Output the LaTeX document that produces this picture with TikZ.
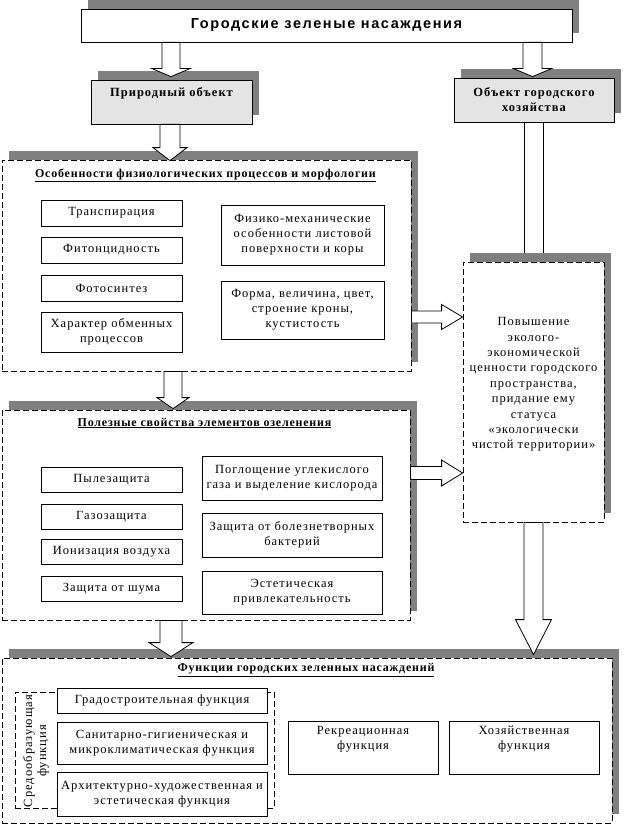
\documentclass[tikz,border=0pt]{standalone}
\usepackage{fontspec}
\setmainfont{Liberation Serif}[LetterSpace=8]
\newfontfamily\titlefont{Liberation Sans}[LetterSpace=11]
\newfontfamily\headfont{Liberation Serif}[LetterSpace=6.5]
\usetikzlibrary{calc}
\definecolor{shadowgray}{HTML}{808080}
\definecolor{boxgray}{HTML}{E4E4E4}
\pgfdeclarelayer{bg}
\pgfsetlayers{bg,main}
\tikzset{
  plainbox/.style={draw=black, fill=white, line width=0.8pt, inner sep=0pt, align=center,
    font=\fontsize{12.5}{15}\selectfont},
  graybox/.style={plainbox, fill=boxgray, font=\bfseries\fontsize{12.5}{15}\selectfont},
  groupbox/.style={draw=black, fill=white, line width=0.8pt, dash pattern=on 6pt off 3pt, inner sep=0pt},
  grouptitle/.style={inner sep=0pt, font=\headfont\bfseries\fontsize{12}{15}\selectfont},
  blockarrow/.style={draw=black, fill=white, line width=0.8pt, line join=miter},
  stemline/.style={draw=black, line width=0.8pt},
}
% shadow behind a node: offset 7 right, 9 up
\newcommand\shadowof[1]{%
  \begin{pgfonlayer}{bg}
    \fill[shadowgray] ($(#1.north west)+(7,-9)$) rectangle ($(#1.south east)+(7,-9)$);
  \end{pgfonlayer}}
% block arrow pointing down: start, tip, stem half width, head half width, head length
\newcommand\blkdown[5]{%
  \draw[blockarrow] ($(#1)+(-#3,0)$) -- ($(#2)+(-#3,-#5)$) -- ($(#2)+(-#4,-#5)$) -- (#2)
    -- ($(#2)+(#4,-#5)$) -- ($(#2)+(#3,-#5)$) -- ($(#1)+(#3,0)$) -- cycle;}
% block arrow pointing right
\newcommand\blkright[5]{%
  \draw[blockarrow] ($(#1)+(0,-#3)$) -- ($(#2)+(-#5,-#3)$) -- ($(#2)+(-#5,-#4)$) -- (#2)
    -- ($(#2)+(-#5,#4)$) -- ($(#2)+(-#5,#3)$) -- ($(#1)+(0,#3)$) -- cycle;}
\begin{document}
\begin{tikzpicture}[x=1pt,y=-1pt]
\useasboundingbox (0,0) rectangle (624,824);

% ---- top level
\node[plainbox, minimum width=491, minimum height=33, font=\titlefont\bfseries\fontsize{14.5}{16}\selectfont]
  (title) at (326.5,25.5) {Городские зеленые насаждения};
\shadowof{title}
\node[graybox, minimum width=161, minimum height=44] (nat) at (171.5,102) {Природный объект\\\strut};
\shadowof{nat}
\node[graybox, minimum width=160, minimum height=44] (obj) at (534,100) {Объект городского\\хозяйства};
\shadowof{obj}

% ---- group 1
\node[groupbox, minimum width=409, minimum height=211] (g1) at (206.5,265.5) {};
\shadowof{g1}
\node[grouptitle] (g1t) at (205.5,175) {\underline{Особенности физиологических процессов и морфологии}};
\node[plainbox, minimum width=141, minimum height=26] (b11) at (111.5,213) {Транспирация};
\node[plainbox, minimum width=141, minimum height=26] (b12) at (111.5,250) {Фитонцидность};
\node[plainbox, minimum width=141, minimum height=26] (b13) at (111.5,288) {Фотосинтез};
\node[plainbox, minimum width=141, minimum height=40] (b14) at (111.5,332) {Характер обменных\\процессов};
\node[plainbox, minimum width=163, minimum height=60] (b15) at (302.5,235) {Физико-механические\\особенности листовой\\поверхности и коры};
\node[plainbox, minimum width=163, minimum height=58] (b16) at (302.5,310) {Форма, величина, цвет,\\строение кроны,\\кустистость};

% ---- right box
\node[groupbox, minimum width=141, minimum height=260] (rb) at (533.5,392)
  {\fontsize{12.5}{15.4}\selectfont\begin{tabular}{@{}c@{}}Повышение\\эколого-\\экономической\\ценности городского\\пространства,\\придание ему\\статуса\\«экологически\\чистой территории»\\\strut\end{tabular}};
\shadowof{rb}

% ---- group 2
\node[groupbox, minimum width=408, minimum height=210] (g2) at (206,515) {};
\shadowof{g2}
\node[grouptitle] (g2t) at (204.5,423) {\underline{Полезные свойства элементов озеленения}};
\node[plainbox, minimum width=141, minimum height=25] (b21) at (111.5,480) {Пылезащита};
\node[plainbox, minimum width=141, minimum height=25] (b22) at (111.5,516.5) {Газозащита};
\node[plainbox, minimum width=141, minimum height=25] (b23) at (111.5,551.5) {Ионизация воздуха};
\node[plainbox, minimum width=141, minimum height=25] (b24) at (111.5,588.5) {Защита от шума};
\node[plainbox, minimum width=180, minimum height=44] (b25) at (292,478) {Поглощение углекислого\\газа и выделение кислорода};
\node[plainbox, minimum width=180, minimum height=44] (b26) at (292,535) {Защита от болезнетворных\\бактерий};
\node[plainbox, minimum width=180, minimum height=43] (b27) at (292,592.5) {Эстетическая\\привлекательность};

% ---- group 3
\node[groupbox, minimum width=610, minimum height=165] (g3) at (307,740.5) {};
\shadowof{g3}
\node[grouptitle] (g3t) at (306,670) {\underline{Функции городских зеленных насаждений}};
\node[groupbox, fill=none, minimum width=259, minimum height=116] (sreda) at (144.5,750) {};
\node[inner sep=0pt, rotate=90, align=center, font=\fontsize{12.5}{14}\selectfont] (sredat) at (36,751) {Средообразующая\\функция};
\node[plainbox, minimum width=210, minimum height=25] (b31) at (162,700.5) {Градостроительная функция};
\node[plainbox, minimum width=210, minimum height=42] (b32) at (162,743) {Санитарно-гигиеническая  и\\микроклиматическая функция};
\node[plainbox, minimum width=210, minimum height=44] (b33) at (162,794) {Архитектурно-художественная и\\эстетическая функция};
\node[plainbox, minimum width=150, minimum height=53] (b34) at (363,747.5) {Рекреационная\\функция\\\strut};
\node[plainbox, minimum width=150, minimum height=53] (b35) at (524,747.5) {Хозяйственная\\функция\\\strut};

% ---- connectors
\coordinate (x1) at (171,0);
\coordinate (x2) at (532.5,0);
\coordinate (x3) at (170,0);
\coordinate (x4) at (173,0);
\coordinate (x5) at (171,0);
\coordinate (x6) at (533.5,0);
\coordinate (y7) at (0,317);
\coordinate (y8) at (0,473);

\coordinate (s1) at (title.south -| x1);
\coordinate (t1) at ($(nat.north -| x1)+(0,-3)$);
\blkdown{s1}{t1}{9}{19}{8}

\coordinate (s2) at (title.south -| x2);
\coordinate (t2) at ($(obj.north -| x2)+(0,-1)$);
\blkdown{s2}{t2}{9.5}{19}{8}

\coordinate (s3) at (nat.south -| x3);
\coordinate (t3) at ($(g1.north -| x3)+(0,1)$);
\blkdown{s3}{t3}{10}{17}{13}

\coordinate (s4) at (g1.south -| x4);
\coordinate (t4) at ($(g2.north -| x4)+(0,-1)$);
\blkdown{s4}{t4}{9}{16}{11}

\coordinate (s5) at (g2.south -| x5);
\coordinate (t5) at ($(g3.north -| x5)+(0,-1)$);
\blkdown{s5}{t5}{11}{22}{14}

\coordinate (s6) at (rb.south -| x6);
\coordinate (t6) at ($(g3.north -| x6)+(0,-3)$);
\blkdown{s6}{t6}{9.5}{18}{35}

\coordinate (rbtop) at ($(rb.north)+(0,-9)$);
\draw[stemline] ($(obj.south -| x6)+(-9.5,0)$) -- ($(rbtop -| x6)+(-9.5,0)$);
\draw[stemline] ($(obj.south -| x6)+(9.5,0)$) -- ($(rbtop -| x6)+(9.5,0)$);

\coordinate (s7) at (g1.east |- y7);
\coordinate (t7) at (rb.west |- y7);
\blkright{s7}{t7}{6}{12.5}{21}

\coordinate (s8) at (g2.east |- y8);
\coordinate (t8) at (rb.west |- y8);
\blkright{s8}{t8}{6.5}{13}{21}
\end{tikzpicture}
\end{document}
